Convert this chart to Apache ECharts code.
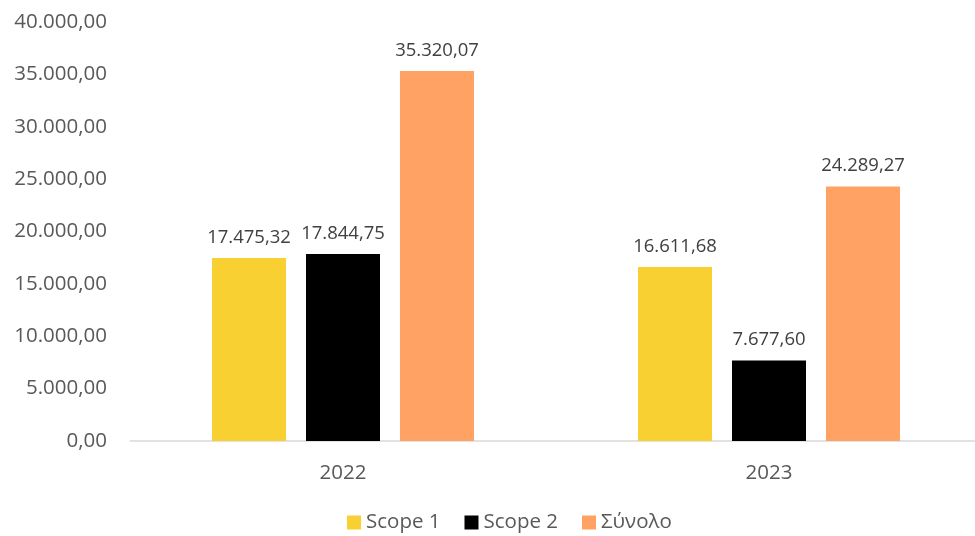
<!DOCTYPE html>
<html><head><meta charset="utf-8">
<script src="https://cdn.jsdelivr.net/npm/echarts@6/dist/echarts.min.js"></script>
<style>html,body{margin:0;padding:0;background:#fff}#c{width:975px;height:536px}</style>
</head><body><div id="c"></div>
<script>
const categories = ['2022', '2023'];
const scope1 = [17475.32, 16611.68];
const scope2 = [17844.75, 7677.60];
const total = [35320.07, 24289.27];
const seriesNames = ['Scope 1', 'Scope 2', 'Σύνολο'];
const colors = ['#F9D031', '#000000', '#FFA263'];

function fmt(v) {
  const parts = Number(v).toFixed(2).split('.');
  parts[0] = parts[0].replace(/\B(?=(\d{3})+(?!\d))/g, '.');
  return parts[0] + ',' + parts[1];
}
const FONT = 'Open Sans';
const chart = echarts.init(document.getElementById('c'));
const mk = (name, data, color) => ({
  name, type: 'bar', data, barWidth: 74, barGap: '27%',
  itemStyle: { color },
  label: { show: true, position: 'top', distance: 11, formatter: p => fmt(p.value),
    color: '#404040', fontSize: 18.5, fontFamily: FONT }
});
chart.setOption({
  animation: false,
  textStyle: { fontFamily: FONT },
  grid: { left: 130, width: 852, top: 22, bottom: 95, outerBoundsMode: 'none', containLabel: false },
  legend: {
    left: 342, bottom: -2, itemWidth: 14, itemHeight: 14, itemGap: 24, icon: 'rect',
    textStyle: { fontSize: 20.5, color: '#595959', fontFamily: FONT },
    data: seriesNames
  },
  xAxis: {
    type: 'category', data: categories,
    axisLine: { lineStyle: { color: '#D9D9D9', width: 1.5 } },
    axisTick: { show: false },
    axisLabel: { color: '#595959', fontSize: 20.5, margin: 22, fontFamily: FONT }
  },
  yAxis: {
    type: 'value', min: 0, max: 40000, interval: 5000,
    splitLine: { show: false },
    axisLabel: { color: '#595959', fontSize: 20.5, margin: 23, formatter: v => fmt(v), fontFamily: FONT }
  },
  series: [mk(seriesNames[0], scope1, colors[0]), mk(seriesNames[1], scope2, colors[1]), mk(seriesNames[2], total, colors[2])]
});
</script></body></html>
